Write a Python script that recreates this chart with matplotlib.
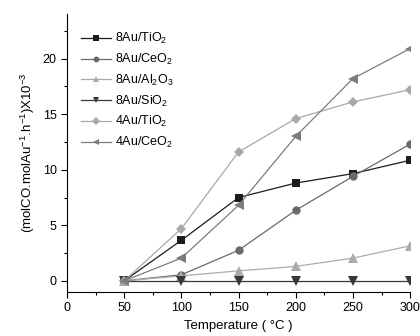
import matplotlib
matplotlib.use("Agg")
import matplotlib.pyplot as plt
from matplotlib.ticker import MultipleLocator

plt.rcParams['font.family'] = ['Liberation Sans', 'DejaVu Sans']
plt.rcParams['mathtext.fontset'] = 'custom'
plt.rcParams['mathtext.rm'] = 'Liberation Sans'
plt.rcParams['mathtext.it'] = 'Liberation Sans:italic'
plt.rcParams['mathtext.bf'] = 'Liberation Sans:bold'
plt.rcParams['mathtext.default'] = 'regular'

temps = [50, 100, 150, 200, 250, 300]
s_8au_tio2 = [0, 3.65, 7.5, 8.8, 9.65, 10.85]
s_8au_ceo2 = [0, 0.55, 2.75, 6.35, 9.4, 12.3]
s_8au_al2o3 = [0, 0.45, 0.9, 1.3, 2.05, 3.15]
s_8au_sio2 = [0, 0, 0, 0, 0, 0]
s_4au_tio2 = [0, 4.7, 11.6, 14.6, 16.1, 17.2]
s_4au_ceo2 = [0, 2.05, 6.8, 13.0, 18.2, 20.9]

labels = ['8Au/TiO$_2$', '8Au/CeO$_2$', '8Au/Al$_2$O$_3$', '8Au/SiO$_2$', '4Au/TiO$_2$', '4Au/CeO$_2$']
series = [s_8au_tio2, s_8au_ceo2, s_8au_al2o3, s_8au_sio2, s_4au_tio2, s_4au_ceo2]
markers = ['s', 'o', '^', 'v', 'D', '<']
colors = ['#1c1c1c', '#6a6a6a', '#ababab', '#383838', '#a8a8a8', '#7c7c7c']
msizes = [5.5, 6, 6.5, 6.5, 5.5, 7]

fig = plt.figure(figsize=(4.2, 3.36), dpi=100)
ax = fig.add_axes([0.1595, 0.131, 0.817, 0.827])

for y, lab, m, c, ms in zip(series, labels, markers, colors, msizes):
    ax.plot(temps, y, marker=m, color=c, markersize=ms, linewidth=0.9, label=lab,
            markeredgewidth=0)

ax.set_xlim(0, 300)
ax.set_ylim(-1, 24)
ax.xaxis.set_major_locator(MultipleLocator(50))
ax.xaxis.set_minor_locator(MultipleLocator(25))
ax.yaxis.set_major_locator(MultipleLocator(5))
ax.yaxis.set_minor_locator(MultipleLocator(2.5))
ax.spines['top'].set_visible(False)
ax.spines['right'].set_visible(False)
ax.tick_params(which='major', length=4, width=0.8, labelsize=9, direction='out')
ax.tick_params(which='minor', length=2.5, width=0.8, direction='out')

ax.set_xlabel('Temperature ( °C )', fontsize=9.5)
ax.set_ylabel('(molCO.molAu$^{-1}$.h$^{-1}$)X10$^{-3}$', fontsize=9.5)

leg = ax.legend(loc='upper left', bbox_to_anchor=(0.02, 0.965), frameon=False, fontsize=9,
                handlelength=2.4, handletextpad=0.3, labelspacing=0.45, borderaxespad=0.2,
                markerscale=0.7)

fig.savefig('out.png', dpi=100)
